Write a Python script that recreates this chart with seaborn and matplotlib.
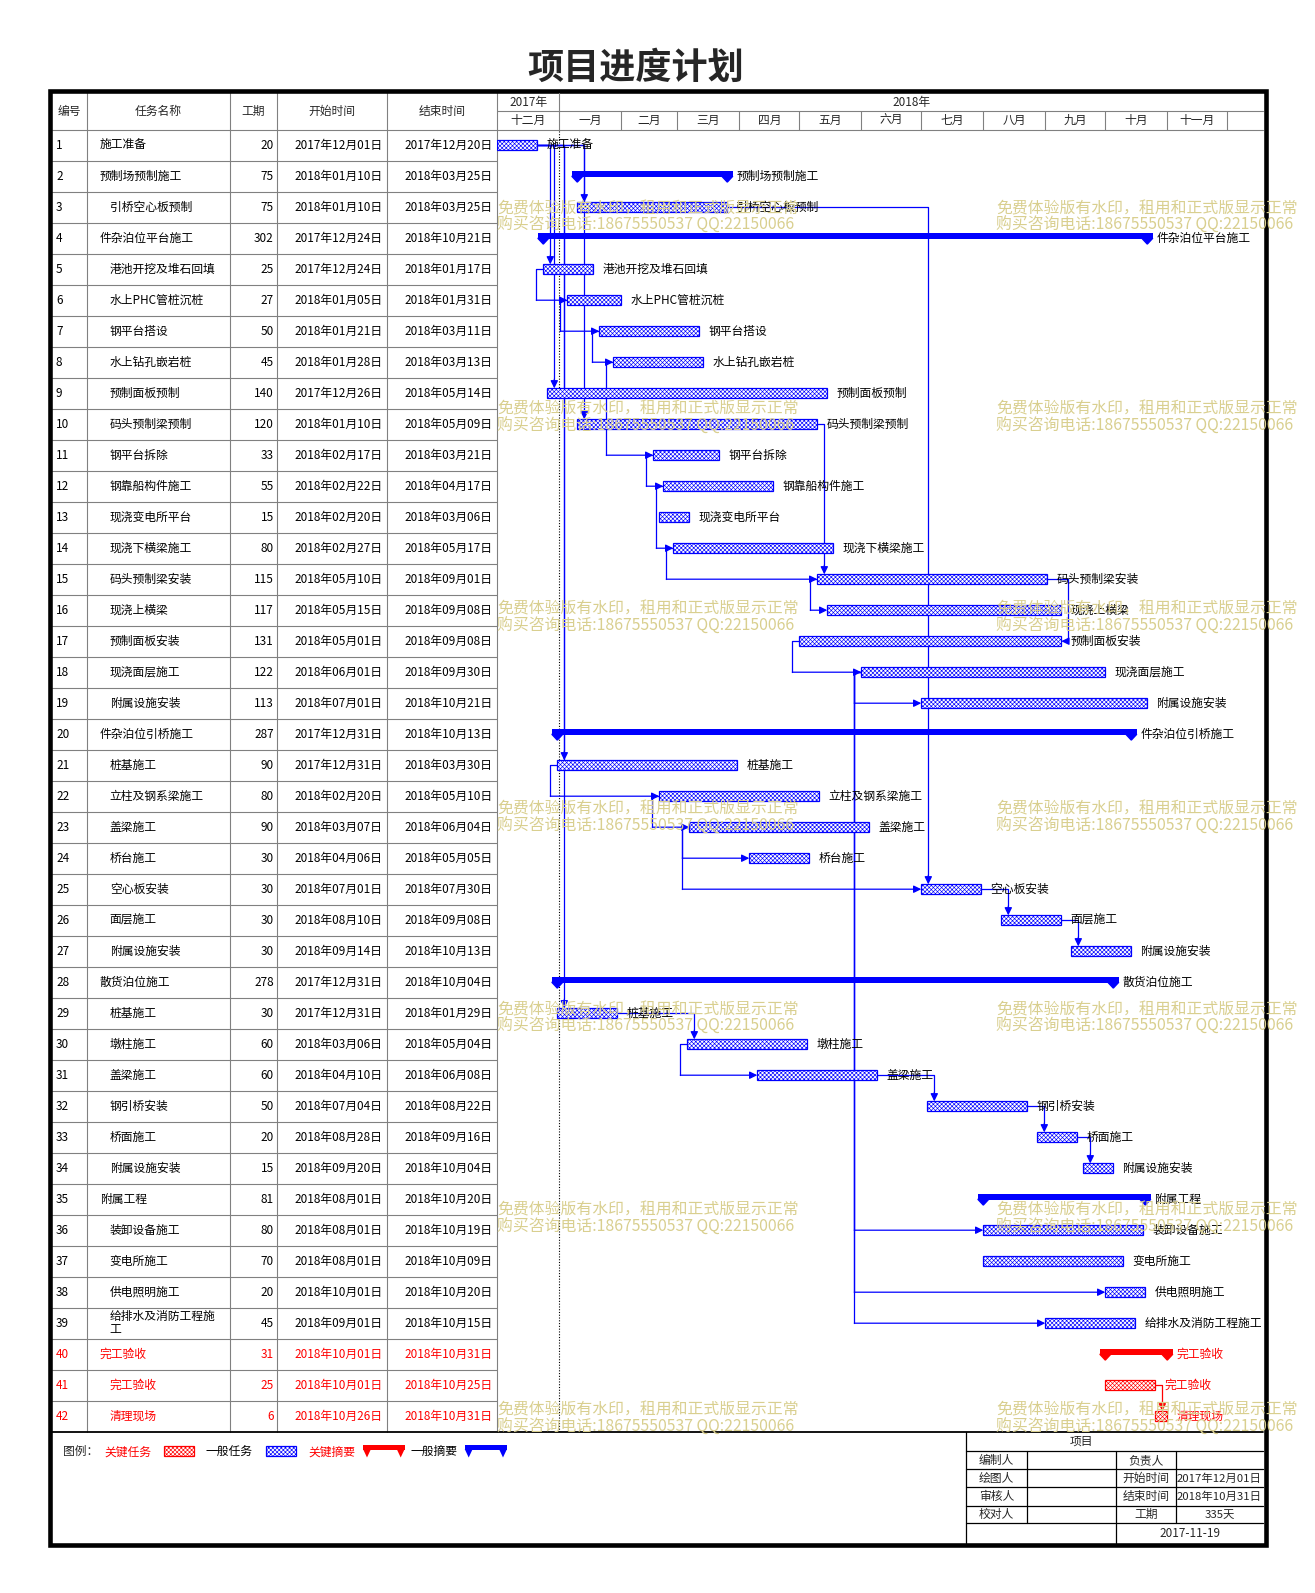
import pandas as pd
import matplotlib
matplotlib.use('Agg')
import matplotlib.pyplot as plt
import matplotlib.dates as mdates
from matplotlib.patches import Polygon, Rectangle
import seaborn as sns

sns.set_theme(style='white')
plt.rcParams['font.family'] = ['Noto Sans CJK SC', 'DejaVu Sans']
plt.rcParams['hatch.linewidth'] = 0.45

# ---------------- data ----------------
names = ['施工准备', '预制场预制施工', '引桥空心板预制', '件杂泊位平台施工', '港池开挖及堆石回填',
         '水上PHC管桩沉桩', '钢平台搭设', '水上钻孔嵌岩桩', '预制面板预制', '码头预制梁预制',
         '钢平台拆除', '钢靠船构件施工', '现浇变电所平台', '现浇下横梁施工', '码头预制梁安装',
         '现浇上横梁', '预制面板安装', '现浇面层施工', '附属设施安装', '件杂泊位引桥施工',
         '桩基施工', '立柱及钢系梁施工', '盖梁施工', '桥台施工', '空心板安装',
         '面层施工', '附属设施安装', '散货泊位施工', '桩基施工', '墩柱施工',
         '盖梁施工', '钢引桥安装', '桥面施工', '附属设施安装', '附属工程',
         '装卸设备施工', '变电所施工', '供电照明施工', '给排水及消防工程施工', '完工验收',
         '完工验收', '清理现场']
levels = [1, 1, 2, 1, 2, 2, 2, 2, 2, 2, 2, 2, 2, 2, 2, 2, 2, 2, 2, 1, 2,
          2, 2, 2, 2, 2, 2, 1, 2, 2, 2, 2, 2, 2, 1, 2, 2, 2, 2, 1, 2, 2]
durations = [20, 75, 75, 302, 25, 27, 50, 45, 140, 120, 33, 55, 15, 80, 115, 117, 131, 122, 113, 287, 90,
             80, 90, 30, 30, 30, 30, 278, 30, 60, 60, 50, 20, 15, 81, 80, 70, 20, 45, 31, 25, 6]
starts = ['2017-12-01', '2018-01-10', '2018-01-10', '2017-12-24', '2017-12-24', '2018-01-05', '2018-01-21',
          '2018-01-28', '2017-12-26', '2018-01-10', '2018-02-17', '2018-02-22', '2018-02-20', '2018-02-27',
          '2018-05-10', '2018-05-15', '2018-05-01', '2018-06-01', '2018-07-01', '2017-12-31', '2017-12-31',
          '2018-02-20', '2018-03-07', '2018-04-06', '2018-07-01', '2018-08-10', '2018-09-14', '2017-12-31',
          '2017-12-31', '2018-03-06', '2018-04-10', '2018-07-04', '2018-08-28', '2018-09-20', '2018-08-01',
          '2018-08-01', '2018-08-01', '2018-10-01', '2018-09-01', '2018-10-01', '2018-10-01', '2018-10-26']
ends = ['2017-12-20', '2018-03-25', '2018-03-25', '2018-10-21', '2018-01-17', '2018-01-31', '2018-03-11',
        '2018-03-13', '2018-05-14', '2018-05-09', '2018-03-21', '2018-04-17', '2018-03-06', '2018-05-17',
        '2018-09-01', '2018-09-08', '2018-09-08', '2018-09-30', '2018-10-21', '2018-10-13', '2018-03-30',
        '2018-05-10', '2018-06-04', '2018-05-05', '2018-07-30', '2018-09-08', '2018-10-13', '2018-10-04',
        '2018-01-29', '2018-05-04', '2018-06-08', '2018-08-22', '2018-09-16', '2018-10-04', '2018-10-20',
        '2018-10-19', '2018-10-09', '2018-10-20', '2018-10-15', '2018-10-31', '2018-10-25', '2018-10-31']
summary_ids = [2, 4, 20, 28, 35, 40]
critical_ids = [40, 41, 42]

# dependency links (predecessor, successor)
links_fs = [(1, 3), (1, 10), (1, 5), (1, 9), (1, 21), (1, 29), (3, 25), (10, 15), (25, 26), (26, 27),
            (29, 30), (31, 32), (32, 33), (33, 34), (41, 42)]
links_ss = [(5, 6), (6, 7), (7, 8), (8, 11), (11, 12), (12, 14), (14, 15), (15, 16), (17, 18), (18, 19),
            (18, 36), (18, 38), (18, 39), (21, 22), (22, 23), (23, 24), (23, 25), (30, 31)]
links_ff = [(15, 17)]

months = ['十二月', '一月', '二月', '三月', '四月', '五月', '六月', '七月', '八月', '九月', '十月', '十一月']
years = ['2017年', '2018年']
status_date = '2018-01-01'
make_date = '2017-11-19'

headers = ['编号', '任务名称', '工期', '开始时间', '结束时间']
legend_items = ['关键任务', '一般任务', '关键摘要', '一般摘要']
block_left = ['编制人', '绘图人', '审核人', '校对人']
block_mid = ['负责人', '开始时间', '结束时间', '工期']
watermark = ['免费体验版有水印，租用和正式版显示正常', '购买咨询电话:18675550537 QQ:22150066']

# ---------------- layout ----------------
W, H = 1315, 1593
BLUE, RED, GRID, WM = '#0000ff', '#ff0000', '#808080', '#d9cf8f'
FS = 8.5
HATCH = 'xxxxxxxx'
X_COLS = [52, 87.3, 229.7, 277.3, 387.3, 497.3]
X_RIGHT = 1263
Y_HEAD, Y_MID, Y_TOP, ROW_H = 93, 111.3, 129.7, 31.0
PX_DAY = 2.0
GAP = 3.5      # days between bar and link elbow
BAR_H = 0.31

n = len(names)
Y_BOT = Y_TOP + ROW_H * n

df = pd.DataFrame({'name': names, 'level': levels, 'dur': durations,
                   'start': pd.to_datetime(starts), 'end': pd.to_datetime(ends)})
df['summary'] = [(i + 1) in summary_ids for i in range(n)]
df['critical'] = [(i + 1) in critical_ids for i in range(n)]
df['x0'] = mdates.date2num(df['start'].to_numpy())
df['x1'] = mdates.date2num((df['end'] + pd.Timedelta(days=1)).to_numpy())

fig = plt.figure(figsize=(W / 100, H / 100), dpi=100)


def px_axes(x0, y0, x1, y1, **kw):
    ax = fig.add_axes([x0 / W, 1 - y1 / H, (x1 - x0) / W, (y1 - y0) / H], **kw)
    ax.axis('off')
    return ax


page = px_axes(0, 0, W, H, zorder=0)
page.set_xlim(0, W)
page.set_ylim(H, 0)

gantt = px_axes(X_COLS[-1], Y_TOP, X_RIGHT, Y_BOT, zorder=2)
d0 = mdates.date2num(pd.Timestamp(starts[0]))
gantt.set_xlim(d0, d0 + (X_RIGHT - X_COLS[-1]) / PX_DAY)
gantt.set_ylim(n - 0.5, -0.5)

tbl = px_axes(X_COLS[0], Y_TOP, X_COLS[-1], Y_BOT, sharey=gantt, zorder=1)
tbl.set_xlim(X_COLS[0], X_COLS[-1])

hdr = px_axes(X_COLS[-1], Y_HEAD, X_RIGHT, Y_TOP, sharex=gantt, zorder=2)
hdr.set_ylim(2, 0)

# ---------------- title and frame ----------------
page.text(636, 68, '项目进度计划', fontsize=26, fontweight='bold', ha='center', va='center')
page.add_patch(Rectangle((50, 90.5), 1216, 1454, fill=False, edgecolor='black', lw=3.3, zorder=5))

# table grid
for k in range(n):
    y = Y_TOP + k * ROW_H
    page.plot([X_COLS[0], X_COLS[-1]], [y, y], color=GRID, lw=0.8)
for x in X_COLS[1:]:
    page.plot([x, x], [Y_HEAD, Y_BOT], color=GRID, lw=0.8)
page.plot([X_COLS[0], X_RIGHT], [Y_BOT, Y_BOT], color='black', lw=1.3)
for k, h in enumerate(headers):
    page.text((X_COLS[k] + X_COLS[k + 1]) / 2, (Y_HEAD + Y_TOP) / 2, h, fontsize=FS,
              ha='center', va='center')

# table rows
for i, r in df.iterrows():
    c = RED if r['critical'] else 'black'
    label = r['name'] if len(r['name']) <= 9 else r['name'][:9] + '\n' + r['name'][9:]
    d_s, d_e = r['start'], r['end']
    tbl.text(56, i, str(i + 1), fontsize=FS, color=c, ha='left', va='center')
    tbl.text(99.7 + 10 * (r['level'] - 1), i, label, fontsize=FS, color=c, ha='left', va='center',
             linespacing=0.95)
    tbl.text(273.7, i, str(r['dur']), fontsize=FS, color=c, ha='right', va='center')
    tbl.text(382.3, i, f'{d_s.year}年{d_s.month:02d}月{d_s.day:02d}日', fontsize=FS, color=c,
             ha='right', va='center')
    tbl.text(492.3, i, f'{d_e.year}年{d_e.month:02d}月{d_e.day:02d}日', fontsize=FS, color=c,
             ha='right', va='center')

# ---------------- timeline header ----------------
edges = mdates.date2num(pd.date_range(starts[0], periods=len(months) + 1, freq='MS').to_numpy())
x_end = gantt.get_xlim()[1]
hdr.plot([edges[0], x_end], [1, 1], color=GRID, lw=0.8, clip_on=False)
hdr.plot([edges[0], x_end], [2, 2], color=GRID, lw=0.8, clip_on=False)
for k, m in enumerate(months):
    hdr.plot([edges[k + 1]] * 2, [1, 2], color=GRID, lw=0.8, clip_on=False)
    hdr.text((edges[k] + edges[k + 1]) / 2, 1.5, m, fontsize=FS, ha='center', va='center')
hdr.plot([edges[1]] * 2, [0, 1], color=GRID, lw=0.8, clip_on=False)
hdr.text((edges[0] + edges[1]) / 2, 0.5, years[0], fontsize=FS, ha='center', va='center')
hdr.text((edges[1] + x_end) / 2, 0.5, years[1], fontsize=FS, ha='center', va='center')

# status date line
gantt.axvline(mdates.date2num(pd.Timestamp(status_date)), color='black', lw=0.8,
              ls=(0, (1, 1.5)), zorder=1)


# ---------------- bars ----------------
def summary_mark(ax, x0, x1, y, color, tri_w=2.75, tri_h=0.19):
    ax.barh(y - 0.08, x1 - x0 + 2 * tri_w, left=x0 - tri_w, height=0.19, color=color,
            edgecolor='none', zorder=3)
    for x in (x0, x1):
        ax.add_patch(Polygon([(x - tri_w, y), (x + tri_w, y), (x, y + tri_h)], closed=True,
                             color=color, zorder=3))


tasks = df[~df['summary']]
for crit, grp in tasks.groupby('critical'):
    c = RED if crit else BLUE
    gantt.barh(grp.index, grp['x1'] - grp['x0'], left=grp['x0'], height=BAR_H, color='white',
               edgecolor=c, hatch=HATCH, lw=0.9, zorder=3)

for i, r in df[df['summary']].iterrows():
    summary_mark(gantt, r['x0'], r['x1'], i, RED if r['critical'] else BLUE)

for i, r in df.iterrows():
    gantt.annotate(r['name'], xy=(r['x1'], i), xytext=(6.5, 0), textcoords='offset points',
                   fontsize=FS, va='center', ha='left', color=RED if r['critical'] else 'black',
                   zorder=4, annotation_clip=False)


# ---------------- links ----------------
def arrow(ax, p_from, p_to, color):
    ax.annotate('', xy=p_to, xytext=p_from, zorder=2,
                arrowprops=dict(arrowstyle='-|>,head_length=0.45,head_width=0.22', color=color,
                                lw=0.9, shrinkA=0, shrinkB=0, mutation_scale=10))


def link_color(p, s):
    return RED if df.loc[p - 1, 'critical'] and df.loc[s - 1, 'critical'] else BLUE


for p, s in links_fs:
    a, b = df.loc[p - 1], df.loc[s - 1]
    c = link_color(p, s)
    xv = b['x0'] + GAP
    top = s - 1 - BAR_H / 2
    gantt.plot([a['x1'], xv, xv], [p - 1, p - 1, top - 0.3], color=c, lw=0.9, zorder=2)
    arrow(gantt, (xv, top - 0.3), (xv, top), c)

for p, s in links_ss:
    a, b = df.loc[p - 1], df.loc[s - 1]
    c = link_color(p, s)
    xv = a['x0'] - GAP
    gantt.plot([a['x0'], xv, xv], [p - 1, p - 1, s - 1], color=c, lw=0.9, zorder=2)
    arrow(gantt, (xv, s - 1), (b['x0'], s - 1), c)

for p, s in links_ff:
    a, b = df.loc[p - 1], df.loc[s - 1]
    c = link_color(p, s)
    xv = max(a['x1'], b['x1']) + GAP
    gantt.plot([a['x1'], xv, xv], [p - 1, p - 1, s - 1], color=c, lw=0.9, zorder=2)
    arrow(gantt, (xv, s - 1), (b['x1'], s - 1), c)

# ---------------- legend ----------------
ly = 1451.7
page.text(63, ly, '图例：', fontsize=FS, ha='left', va='center')
leg_text_x = [104.7, 206, 308.7, 410.7]
leg_glyph_x = [(164, 193.7), (266, 295.7), (363, 404.7), (464.7, 507)]
for k, item in enumerate(legend_items):
    c = RED if k % 2 == 0 else BLUE
    page.text(leg_text_x[k], ly, item, fontsize=FS, ha='left', va='center',
              color=RED if k % 2 == 0 else 'black')
    gx0, gx1 = leg_glyph_x[k]
    if k < 2:
        page.add_patch(Rectangle((gx0, 1446), gx1 - gx0, 10, facecolor='white', edgecolor=c,
                                 hatch=HATCH, lw=0.9))
    else:
        page.add_patch(Rectangle((gx0, 1445), gx1 - gx0, 4.5, color=c, lw=0))
        for tx in (gx0 + 4, gx1 - 4):
            page.add_patch(Polygon([(tx - 4, 1449), (tx + 4, 1449), (tx, 1457.5)], color=c, lw=0))

# ---------------- title block ----------------
TB_X = [966, 1026.7, 1116, 1176, X_RIGHT]
TB_Y = [Y_BOT, 1451, 1469.3, 1487.3, 1506, 1523.3, 1544.5]
page.plot([TB_X[0], TB_X[0]], [TB_Y[0], TB_Y[-1]], color='black', lw=0.9)
for y in TB_Y[1:6]:
    page.plot([TB_X[0], X_RIGHT], [y, y], color='black', lw=0.9)
for x in (TB_X[1], TB_X[3]):
    page.plot([x, x], [TB_Y[1], TB_Y[5]], color='black', lw=0.9)
page.plot([TB_X[2], TB_X[2]], [TB_Y[1], TB_Y[-1]], color='black', lw=0.9)
page.text((TB_X[0] + X_RIGHT) / 2 - 33, (TB_Y[0] + TB_Y[1]) / 2, '项目', fontsize=FS,
          ha='center', va='center')
p_start, p_end = df['start'].min(), df['end'].max()
block_vals = ['', f'{p_start.year}年{p_start.month:02d}月{p_start.day:02d}日',
              f'{p_end.year}年{p_end.month:02d}月{p_end.day:02d}日',
              f'{(p_end - p_start).days + 1}天']
for k in range(4):
    yc = (TB_Y[k + 1] + TB_Y[k + 2]) / 2
    page.text((TB_X[0] + TB_X[1]) / 2, yc, block_left[k], fontsize=FS, ha='center', va='center')
    page.text((TB_X[2] + TB_X[3]) / 2, yc, block_mid[k], fontsize=FS, ha='center', va='center')
    page.text((TB_X[3] + TB_X[4]) / 2, yc, block_vals[k], fontsize=FS - 0.3, ha='center',
              va='center')
page.text((TB_X[2] + X_RIGHT) / 2, (TB_Y[5] + TB_Y[6]) / 2, make_date, fontsize=FS,
          ha='center', va='center')

# ---------------- watermark ----------------
wm = px_axes(0, 0, W, H, zorder=6)
wm.set_xlim(0, W)
wm.set_ylim(H, 0)
for k in range(7):
    y = 208.5 + 200.25 * k
    for x in (497, 996):
        wm.text(x, y, watermark[0], fontsize=11.4, color=WM, ha='left', va='center')
        wm.text(x, y + 17, watermark[1], fontsize=11.4, color=WM, ha='left', va='center')

fig.savefig('out.png', dpi=100)
